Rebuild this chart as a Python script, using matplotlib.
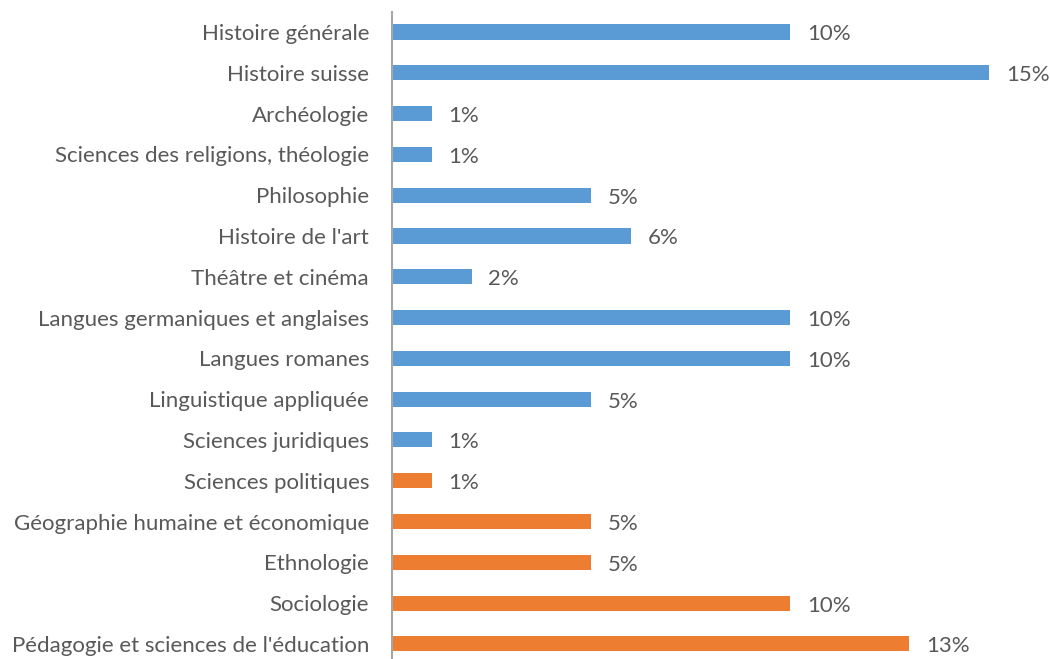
import matplotlib.pyplot as plt

categories = ["Histoire générale", "Histoire suisse", "Archéologie",
              "Sciences des religions, théologie", "Philosophie",
              "Histoire de l'art", "Théâtre et cinéma",
              "Langues germaniques et anglaises", "Langues romanes",
              "Linguistique appliquée", "Sciences juridiques",
              "Sciences politiques", "Géographie humaine et économique",
              "Ethnologie", "Sociologie",
              "Pédagogie et sciences de l'éducation"]
values = [10, 15, 1, 1, 5, 6, 2, 10, 10, 5, 1, 1, 5, 5, 10, 13]
groups = ["a"] * 11 + ["b"] * 5

colors = {"a": "#5B9BD5", "b": "#ED7D31"}
text_color = "#595959"
font = "Lato"
fs = 16

fig = plt.figure(figsize=(10.5, 6.59), dpi=100)
ax = fig.add_axes([392 / 1050, 0, 16.5 * 39.8 / 1050, 1 - 12 / 659])

ypos = list(range(len(categories)))
ax.barh(ypos, values, height=0.37, color=[colors[g] for g in groups])
for y, v in zip(ypos, values):
    ax.text(v + 0.42, y + 0.06, f"{v}%", va="center", ha="left",
            fontsize=fs, color=text_color, family=font)

ax.set_xlim(0, 16.5)
ax.set_ylim(15.37, -0.49)
ax.set_yticks(ypos)
ax.set_yticklabels(categories, fontsize=fs, color=text_color, family=font)
ax.tick_params(axis="y", length=0, pad=16.5)
ax.set_xticks([])
for s in ["top", "right", "bottom"]:
    ax.spines[s].set_visible(False)
ax.spines["left"].set_color("#A6A6A6")
ax.spines["left"].set_linewidth(1.5)

fig.savefig("out.png", dpi=100)
